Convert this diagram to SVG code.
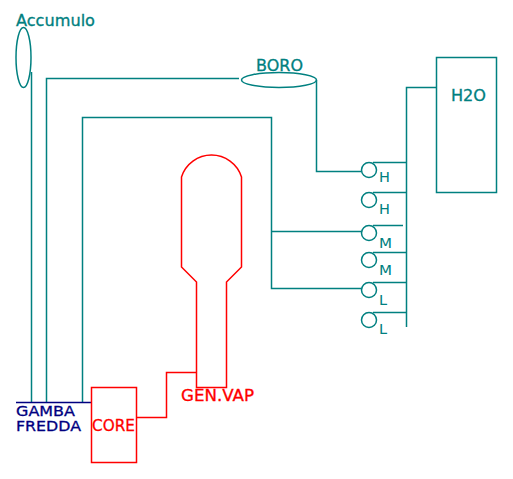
<svg xmlns="http://www.w3.org/2000/svg" width="513" height="479" viewBox="0 0 513 479">
<style>
.t{fill:none;stroke:#008080;stroke-width:1.5}
.r{fill:none;stroke:#ff0000;stroke-width:1.5}
.n{fill:none;stroke:#000080;stroke-width:1.5}
text{font-family:"DejaVu Sans",sans-serif;font-size:15.200px;stroke-width:0.3}
.lt{fill:#008080;stroke:#008080}
.lr{fill:#ff0000;stroke:#ff0000}
.ln{fill:#000080;stroke:#000080;font-size:14.500px}
.s{font-size:14.500px;stroke-width:0}
</style>
<rect width="513" height="479" fill="#ffffff"/>
<g id="connectors">
<path class="t" d="M31.500 72V402"/>
<path class="t" d="M46.500 402V78.500H239"/>
<path class="t" d="M82.500 402V117.500H271.500V288.500H361"/>
<path class="t" d="M271.500 231.500H361"/>
<path class="t" d="M316.500 80V171.500H361"/>
<path class="t" d="M406.500 327V87.500H436"/>
<path class="t" d="M373 162.500H406M373 192.500H406M373 225.500H403M373 252.500H406M373 282.500H406M373 312.500H406"/>
<path class="r" d="M136 417.500H166.500V372.500H196"/>
</g>
<g id="accumulo"><ellipse class="t" cx="23.500" cy="57.500" rx="7.500" ry="30"/><text class="lt" x="16" y="26" textLength="79" lengthAdjust="spacingAndGlyphs">Accumulo</text></g>
<g id="boro"><ellipse class="t" cx="279" cy="80" rx="37.500" ry="7.500"/><text class="lt" x="256" y="71" textLength="47" lengthAdjust="spacingAndGlyphs">BORO</text></g>
<g id="h2o"><rect class="t" x="436.500" y="57.500" width="60" height="135"/><text class="lt" x="451" y="101" textLength="35" lengthAdjust="spacingAndGlyphs">H2O</text></g>
<g id="valve-h1"><circle class="t" cx="369" cy="170" r="7.500"/><text class="lt s" x="379" y="182">H</text></g>
<g id="valve-h2"><circle class="t" cx="369" cy="200" r="7.500"/><text class="lt s" x="379" y="214">H</text></g>
<g id="valve-m1"><circle class="t" cx="369" cy="233" r="7.500"/><text class="lt s" x="379" y="248" textLength="13" lengthAdjust="spacingAndGlyphs">M</text></g>
<g id="valve-m2"><circle class="t" cx="369" cy="260" r="7.500"/><text class="lt s" x="379" y="275" textLength="13" lengthAdjust="spacingAndGlyphs">M</text></g>
<g id="valve-l1"><circle class="t" cx="369" cy="290" r="7.500"/><text class="lt s" x="379" y="305">L</text></g>
<g id="valve-l2"><circle class="t" cx="369" cy="320" r="7.500"/><text class="lt s" x="379" y="334">L</text></g>
<g id="gamba-fredda"><path class="n" d="M16 402.500H91"/><text class="ln" x="16" y="416" textLength="59" lengthAdjust="spacingAndGlyphs">GAMBA</text><text class="ln" x="16" y="431" textLength="65" lengthAdjust="spacingAndGlyphs">FREDDA</text></g>
<g id="core"><rect class="r" x="91.500" y="387.500" width="45" height="75"/><text class="lr" x="92" y="431" textLength="43" lengthAdjust="spacingAndGlyphs">CORE</text></g>
<g id="gen-vap"><path class="r" d="M196.500 387.500H226.500V282L241.500 267V177A31.500 31.500 0 0 0 181.500 177V267L196.500 282Z"/><text class="lr" x="181" y="401" textLength="73" lengthAdjust="spacingAndGlyphs">GEN.VAP</text></g>
</svg>
